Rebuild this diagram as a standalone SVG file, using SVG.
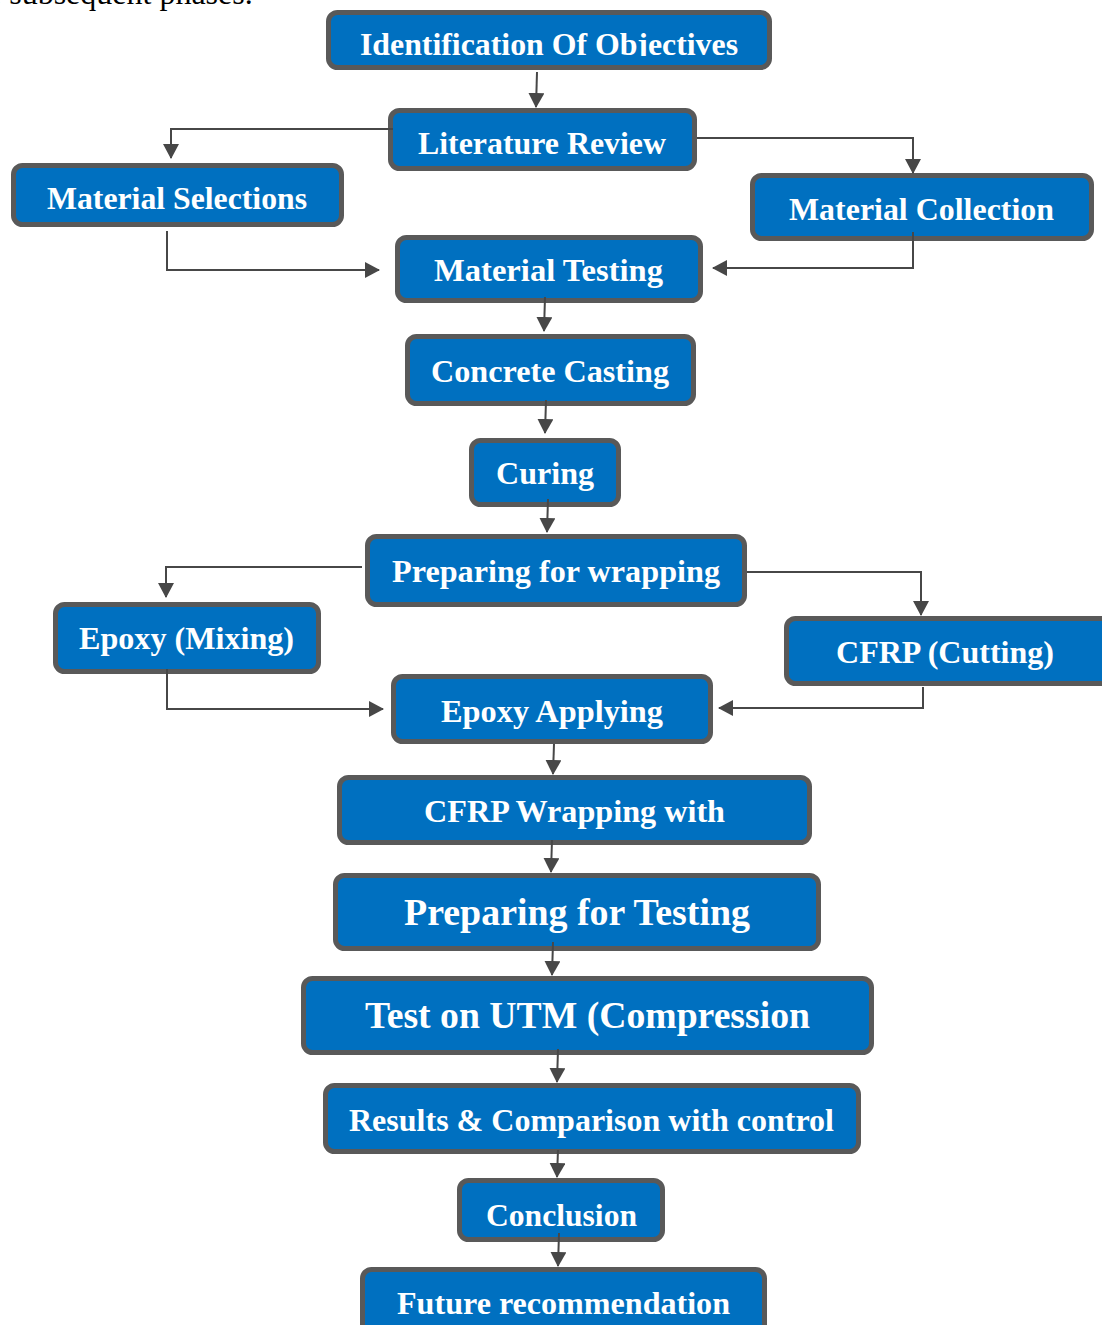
<svg xmlns="http://www.w3.org/2000/svg" width="1102" height="1325" viewBox="0 0 1102 1325">
<defs>
<marker id="ah" viewBox="0 0 15 16" markerWidth="15" markerHeight="16" refX="14" refY="8" orient="auto" markerUnits="userSpaceOnUse">
<path d="M0,0 L15,8 L0,16 z" fill="#474747"/>
</marker>
<clipPath id="clip1"><rect x="326" y="10" width="446" height="46"/></clipPath>
</defs>
<style>
.box{fill:#0070C0;stroke:#595959;stroke-width:5}
.lbl{font-family:"Liberation Serif","Times New Roman",serif;font-weight:bold;fill:#ffffff;text-anchor:middle;font-size:32px}
.big{font-size:37px}
.edge{fill:none;stroke:#474747;stroke-width:2;marker-end:url(#ah)}
.cap{font-family:"Liberation Serif","Times New Roman",serif;font-size:32px;fill:#000000}
</style>
<rect width="1102" height="1325" fill="#ffffff"/>
<text class="cap" x="-13" y="4">e subsequent phases.</text>

<g id="n1"><rect class="box" x="328.5" y="12.5" width="441" height="55" rx="9"/><text class="lbl" x="549" y="55" textLength="378" lengthAdjust="spacingAndGlyphs" clip-path="url(#clip1)">Identification Of Objectives</text></g>
<g id="n2"><rect class="box" x="390.5" y="110.5" width="304" height="58" rx="9"/><text class="lbl" x="542" y="154" textLength="248" lengthAdjust="spacingAndGlyphs">Literature Review</text></g>
<g id="n3"><rect class="box" x="13.5" y="165.5" width="328" height="59" rx="9"/><text class="lbl" x="177" y="209" textLength="260" lengthAdjust="spacingAndGlyphs">Material Selections</text></g>
<g id="n4"><rect class="box" x="752.5" y="175.5" width="339" height="63" rx="9"/><text class="lbl" x="921.5" y="220" textLength="265" lengthAdjust="spacingAndGlyphs">Material Collection</text></g>
<g id="n5"><rect class="box" x="397.5" y="237.5" width="303" height="63" rx="9"/><text class="lbl" x="548.5" y="281" textLength="229" lengthAdjust="spacingAndGlyphs">Material Testing</text></g>
<g id="n6"><rect class="box" x="407.5" y="336.5" width="286" height="67" rx="9"/><text class="lbl" x="550" y="382" textLength="238" lengthAdjust="spacingAndGlyphs">Concrete Casting</text></g>
<g id="n7"><rect class="box" x="471.5" y="440.5" width="147" height="64" rx="9"/><text class="lbl" x="545" y="484" textLength="98" lengthAdjust="spacingAndGlyphs">Curing</text></g>
<g id="n8"><rect class="box" x="367.5" y="536.5" width="377" height="68" rx="9"/><text class="lbl" x="556" y="582" textLength="328" lengthAdjust="spacingAndGlyphs">Preparing for wrapping</text></g>
<g id="n9"><rect class="box" x="55.5" y="604.5" width="263" height="67" rx="9"/><text class="lbl" x="186.5" y="649" textLength="215" lengthAdjust="spacingAndGlyphs">Epoxy (Mixing)</text></g>
<g id="n10"><rect class="box" x="786.5" y="618.5" width="330" height="65" rx="9"/><text class="lbl" x="945" y="663" textLength="218" lengthAdjust="spacingAndGlyphs">CFRP (Cutting)</text></g>
<g id="n11"><rect class="box" x="393.5" y="676.5" width="317" height="65" rx="9"/><text class="lbl" x="552" y="722" textLength="222" lengthAdjust="spacingAndGlyphs">Epoxy Applying</text></g>
<g id="n12"><rect class="box" x="339.5" y="777.5" width="470" height="65" rx="9"/><text class="lbl" x="574.5" y="822" textLength="301" lengthAdjust="spacingAndGlyphs">CFRP Wrapping with</text></g>
<g id="n13"><rect class="box" x="335.5" y="875.5" width="483" height="73" rx="9"/><text class="lbl big" x="577" y="925" textLength="346" lengthAdjust="spacingAndGlyphs">Preparing for Testing</text></g>
<g id="n14"><rect class="box" x="303.5" y="978.5" width="568" height="74" rx="9"/><text class="lbl big" x="587.5" y="1028" textLength="445" lengthAdjust="spacingAndGlyphs">Test on UTM (Compression</text></g>
<g id="n15"><rect class="box" x="325.5" y="1085.5" width="533" height="66" rx="9"/><text class="lbl" x="591.5" y="1131" textLength="485" lengthAdjust="spacingAndGlyphs">Results &amp; Comparison with control</text></g>
<g id="n16"><rect class="box" x="459.5" y="1180.5" width="203" height="59" rx="9"/><text class="lbl" x="561.5" y="1226" textLength="151" lengthAdjust="spacingAndGlyphs">Conclusion</text></g>
<g id="n17"><rect class="box" x="362.5" y="1269.5" width="402" height="80" rx="9"/><text class="lbl" x="563.5" y="1314" textLength="333" lengthAdjust="spacingAndGlyphs">Future recommendation</text></g>

<g id="connectors">
<path class="edge" d="M537,72 L536,107"/>
<path class="edge" d="M393,129 H171 V158"/>
<path class="edge" d="M697,138 H913 V173"/>
<path class="edge" d="M167,231 V270 H379"/>
<path class="edge" d="M913,232 V268 H713"/>
<path class="edge" d="M545,297 L544,331"/>
<path class="edge" d="M546,400 L545,433"/>
<path class="edge" d="M548,499 L547,532"/>
<path class="edge" d="M362,567 H166 V597"/>
<path class="edge" d="M747,572 H921 V615"/>
<path class="edge" d="M167,669 V709 H383"/>
<path class="edge" d="M923,687 V708 H719"/>
<path class="edge" d="M554,744 L553,774"/>
<path class="edge" d="M552,840 L551,872"/>
<path class="edge" d="M553,942 L552,975"/>
<path class="edge" d="M558,1049 L557,1082"/>
<path class="edge" d="M558,1150 L557,1177"/>
<path class="edge" d="M559,1233 L558,1266"/>
</g>
</svg>
